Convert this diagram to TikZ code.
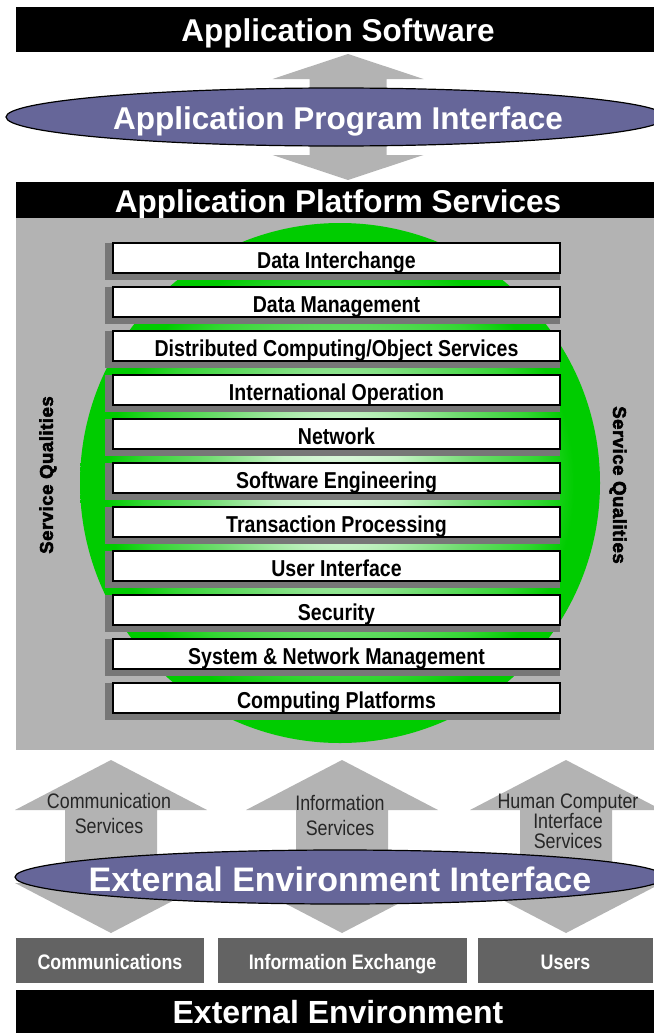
\documentclass[tikz,border=0pt]{standalone}
\usepackage{fontspec}
\setmainfont{Liberation Sans}
\newfontfamily\narrowfont[FakeStretch=0.85]{Liberation Sans}
\newfontfamily\heavyfont[BoldFeatures={FakeBold=3}, LetterSpace=3]{Liberation Sans}
\usepackage{tikz}
\usetikzlibrary{shapes.geometric, calc}

\definecolor{panelgrey}{RGB}{179,179,179}
\definecolor{shadowgrey}{RGB}{119,119,119}
\definecolor{boxgrey}{RGB}{99,99,99}
\definecolor{ovalblue}{RGB}{102,102,153}
\definecolor{orbgreen}{RGB}{0,204,0}
\definecolor{orbcore}{RGB}{226,249,226}
\definecolor{orbmid}{RGB}{112,220,112}
\pgfdeclareradialshading{orbglow}{\pgfpoint{0bp}{0bp}}{color(0bp)=(orbcore); color(6bp)=(orbcore!75!orbmid); color(13bp)=(orbmid); color(19bp)=(orbgreen!80!white); color(22.5bp)=(orbgreen); color(50bp)=(orbgreen)}

\begin{document}
\begin{tikzpicture}[x=1pt, y=-1pt,
  titlebar/.style={rectangle, fill=black, text=white, inner sep=0pt, minimum width=644pt, text height=24.6pt, text depth=0pt, font=\bfseries\fontsize{31.5}{32}\selectfont},
  oval/.style={ellipse, draw=black, line width=1.2pt, fill=ovalblue, inner sep=0pt},
  ovaltext/.style={text=white, inner sep=0pt, text height=24.6pt, text depth=0pt, font=\bfseries\fontsize{31.5}{32}\selectfont},
  layerbox/.style={rectangle, draw=black, line width=1.5pt, fill=white, inner sep=0pt, minimum width=447pt, minimum height=30pt, text height=20.5pt, text depth=0pt, font=\narrowfont\bfseries\fontsize{23}{23}\selectfont},
  sidelabel/.style={inner sep=0pt, font=\heavyfont\bfseries\fontsize{18.5}{18.5}\selectfont},
  svclabel/.style={align=center, inner sep=0pt, text=black!85, font=\narrowfont\fontsize{21}{25}\selectfont},
  envbox/.style={rectangle, fill=boxgrey, text=white, inner sep=0pt, minimum height=45pt, text height=18pt, text depth=0pt, font=\narrowfont\bfseries\fontsize{21}{21}\selectfont}]
\useasboundingbox (0,0) rectangle (653,1033);

% upper part
\node[titlebar, minimum height=45pt] (appsw) at (338,29.5) {Application Software};
\fill[panelgrey] (348,54) -- (423.5,79) -- (386.5,79) -- (386.5,155) -- (423.5,155) -- (348,180)
  -- (272.5,155) -- (309.5,155) -- (309.5,79) -- (272.5,79) -- cycle;
\node[oval, minimum width=660pt, minimum height=58pt] (api) at (336,117) {};
\node[ovaltext] (apitext) at (338,117) {Application Program Interface};
\node[titlebar, minimum height=36pt] (aps) at (338,200) {Application Platform Services};

% platform services
\fill[panelgrey] (16,218) rectangle (660,750);
\shade[shading=orbglow] (340,483) circle (260pt);
\foreach \lab [count=\i from 0] in {Data Interchange, Data Management, Distributed Computing/Object Services,
  International Operation, Network, Software Engineering, Transaction Processing, User Interface,
  Security, System \& Network Management, Computing Platforms} {
  \fill[shadowgrey] (105,243+44*\i) rectangle (560,280+44*\i);
  \node[layerbox] (layer\i) at (336.5,258+44*\i) {\lab};
}
\node[sidelabel, rotate=90] (qualleft) at (48,475) {Service Qualities};
\node[sidelabel, rotate=-90] (qualright) at (618,485) {Service Qualities};

% external environment
\foreach \cx in {111,342,566}
  \fill[panelgrey] (\cx,760) -- (\cx+96,810) -- (\cx+46,810) -- (\cx+46,883) -- (\cx+96,883) -- (\cx,933)
    -- (\cx-96,883) -- (\cx-46,883) -- (\cx-46,810) -- (\cx-96,810) -- cycle;
\node[svclabel] (commsvc) at (109,813) {Communication\\Services};
\node[svclabel] (infosvc) at (340,815) {Information\\Services};
\node[svclabel, font=\narrowfont\fontsize{21}{19.5}\selectfont] (hcisvc) at (568,821) {Human Computer\\Interface\\Services};
\node[oval, minimum width=650pt, minimum height=54pt] (eei) at (340,877) {};
\node[ovaltext, text height=28.3pt, font=\bfseries\fontsize{34}{34}\selectfont] (eeitext) at (eei) {External Environment Interface};
\node[envbox, minimum width=188pt] (commbox) at (110,960.5) {Communications};
\node[envbox, minimum width=249pt] (infobox) at (342.5,960.5) {Information Exchange};
\node[envbox, minimum width=175pt] (userbox) at (565.5,960.5) {Users};
\node[titlebar, minimum height=43pt, text height=24pt, font=\bfseries\fontsize{32}{32}\selectfont] (extenv) at (338,1011.5) {External Environment};
\end{tikzpicture}
\end{document}
